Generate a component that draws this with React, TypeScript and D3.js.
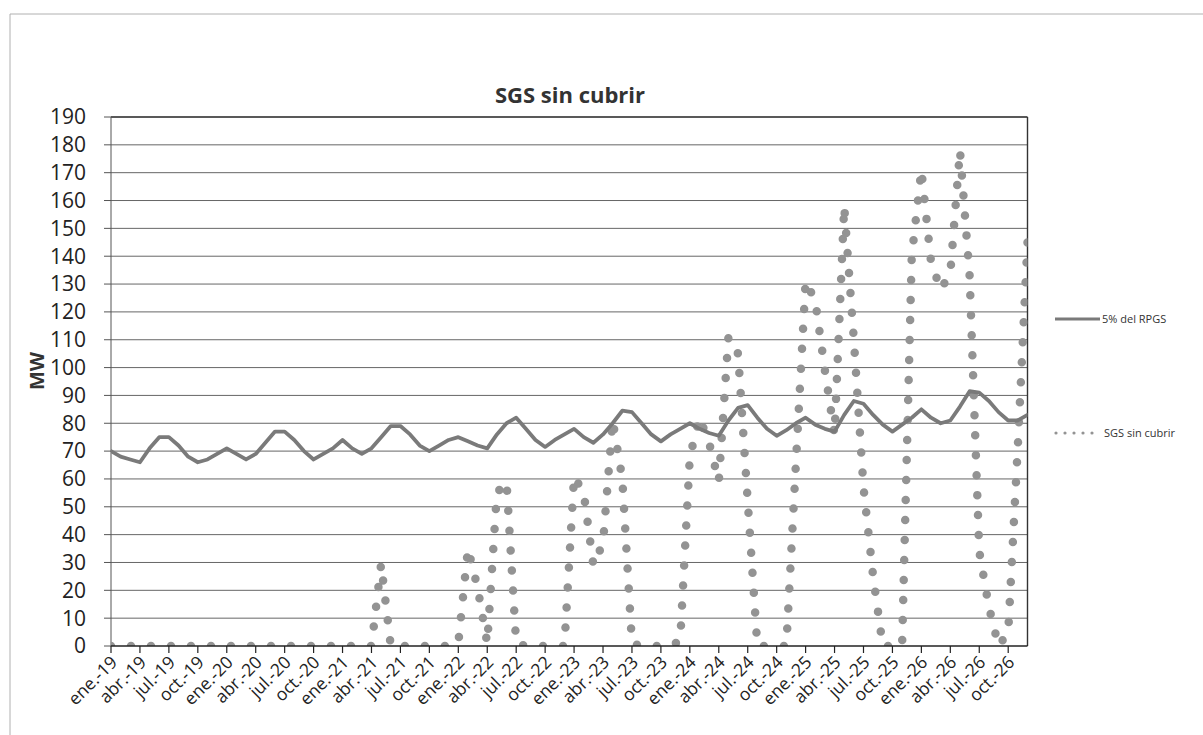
import React from "react";
import * as d3 from "d3";

const monthNames = ["ene", "feb", "mar", "abr", "may", "jun", "jul", "ago", "sep", "oct", "nov", "dic"];
const yearNames = ["19", "20", "21", "22", "23", "24", "25", "26"];
const categories: string[] = yearNames.flatMap((yy) => monthNames.map((m) => `${m}.-${yy}`));

// 5% del RPGS (MW), monthly ene-19 .. dic-26
const rpgs: number[] = [
  70, 68, 67, 66, 71, 75, 75, 72, 68, 66, 67, 69,
  71, 69, 67, 69, 73, 77, 77, 74, 70, 67, 69, 71,
  74, 71, 69, 71, 75, 79, 79, 76, 72, 70, 72, 74,
  75, 73.5, 72, 71, 76, 80, 82, 78, 74, 71.5, 74, 76,
  78, 75, 73, 76, 80, 84.5, 84, 80, 76, 73.5, 76, 78,
  80, 78, 76.5, 75.5, 81, 85.5, 86.5, 82, 78, 75.5, 77.5, 80,
  82, 79.5, 78, 77, 83, 88, 87, 83, 79.5, 77, 79.5, 82,
  85, 82, 80, 81, 86, 91.5, 91, 88, 84, 81, 81, 83,
];

// SGS sin cubrir (MW), monthly ene-19 .. dic-26
const sgs: number[] = [
  0, 0, 0, 0, 0, 0, 0, 0, 0, 0, 0, 0,
  0, 0, 0, 0, 0, 0, 0, 0, 0, 0, 0, 0,
  0, 0, 0, 0, 29.5, 0, 0, 0, 0, 0, 0, 0,
  1, 35, 21, 1, 55, 59, 1, 0, 0, 0, 0, 0,
  61, 55, 29, 37, 81, 60, 1, 0, 0, 0, 0, 2,
  68, 82, 73, 59, 111, 105, 52, 0, 0, 0, 0, 66,
  131, 124, 99, 76, 158, 110, 57, 25, 0, 0, 0, 140,
  171, 138, 128, 134, 178, 133, 34, 14, 0, 5, 72, 145,
];

const yTicks: number[] = [0, 10, 20, 30, 40, 50, 60, 70, 80, 90, 100, 110, 120, 130, 140, 150, 160, 170, 180, 190];
const tickEvery = 3;

const seriesNames = ["5% del RPGS", "SGS sin cubrir"];
const titleText = "SGS sin cubrir";
const yTitle = "MW";

export default function App() {
  const W = 1203;
  const H = 735;
  const left = 111;
  const right = 1027.5;
  const top = 117;
  const bottom = 646;

  const x = d3.scaleLinear().domain([0, categories.length - 1]).range([left, right]);
  const y = d3.scaleLinear().domain([0, 190]).range([bottom, top]);

  const lineGen = d3
    .line<number>()
    .x((_, i) => x(i))
    .y((d) => y(d));

  const font = "'Open Sans', 'Liberation Sans', sans-serif";
  const tickIdx = categories.map((_, i) => i).filter((i) => i % tickEvery === 0);

  return (
    <svg
      width={W}
      height={H}
      viewBox={`0 0 ${W} ${H}`}
      style={{ position: "absolute", left: 0, top: 0, background: "#fff" }}
    >
      <defs>
        <clipPath id="plotClip">
          <rect x={left} y={top - 4} width={right - left} height={bottom - top + 4} />
        </clipPath>
      </defs>
      <rect x={0} y={0} width={W} height={H} fill="#fff" />
      {/* outer chart border */}
      <path d={`M10,${H} L10,14 L${W},14`} fill="none" stroke="#b0b0b0" strokeWidth={1} />

      {/* title */}
      <text x={570} y={103} textAnchor="middle" fontFamily={font} fontWeight={700} fontSize={22} fill="#333">
        {titleText}
      </text>

      {/* gridlines */}
      {yTicks.filter((t) => t > 0 && t < 190).map((t) => (
        <line key={`g${t}`} x1={left} x2={right} y1={y(t)} y2={y(t)} stroke="#666" strokeWidth={1} />
      ))}
      {/* plot border top & right */}
      <line x1={left} x2={right} y1={y(190)} y2={y(190)} stroke="#222" strokeWidth={1.6} />
      <line x1={right} x2={right} y1={y(190)} y2={bottom} stroke="#333" strokeWidth={1.4} />

      {/* y axis */}
      <line x1={left} x2={left} y1={top} y2={bottom} stroke="#555" strokeWidth={1} />
      {yTicks.map((t) => (
        <g key={`yt${t}`}>
          <line x1={left - 7} x2={left} y1={y(t)} y2={y(t)} stroke="#555" strokeWidth={1} />
          <text
            x={86}
            y={y(t)}
            dy="0.35em"
            textAnchor="end"
            fontFamily={font}
            fontSize={21}
            fill="#222"
          >
            {t}
          </text>
        </g>
      ))}
      <text
        transform={`translate(44,371) rotate(-90)`}
        textAnchor="middle"
        fontFamily={font}
        fontWeight={700}
        fontSize={20}
        fill="#333"
      >
        {yTitle}
      </text>

      {/* series */}
      <g clipPath="url(#plotClip)">
        <path
          d={lineGen(sgs) || ""}
          fill="none"
          stroke="#939393"
          strokeWidth={8.5}
          strokeLinecap="round"
          strokeLinejoin="round"
          strokeDasharray="0 20"
        />
        <path
          d={lineGen(rpgs) || ""}
          fill="none"
          stroke="#7a7a7a"
          strokeWidth={3.8}
          strokeLinejoin="round"
          strokeLinecap="round"
        />
      </g>

      {/* x axis */}
      <line x1={left} x2={right} y1={bottom} y2={bottom} stroke="#222" strokeWidth={1.6} />
      {tickIdx.map((i) => (
        <g key={`xt${i}`}>
          <line x1={x(i)} x2={x(i)} y1={bottom} y2={bottom + 7} stroke="#222" strokeWidth={1.2} />
          <text
            transform={`translate(${x(i) + 3},${bottom + 13}) rotate(-45)`}
            textAnchor="end"
            dy="0.35em"
            fontFamily={font}
            fontSize={17.5}
            fill="#222"
          >
            {categories[i]}
          </text>
        </g>
      ))}

      {/* legend */}
      <line x1={1055} x2={1100} y1={319} y2={319} stroke="#7a7a7a" strokeWidth={3} />
      <text x={1102} y={319} dy="0.35em" fontFamily={font} fontSize={11} fill="#333">
        {seriesNames[0]}
      </text>
      <line
        x1={1056}
        x2={1098}
        y1={433}
        y2={433}
        stroke="#939393"
        strokeWidth={3.2}
        strokeLinecap="round"
        strokeDasharray="0 9"
      />
      <text x={1104} y={433} dy="0.35em" fontFamily={font} fontSize={11} fill="#333">
        {seriesNames[1]}
      </text>
    </svg>
  );
}
